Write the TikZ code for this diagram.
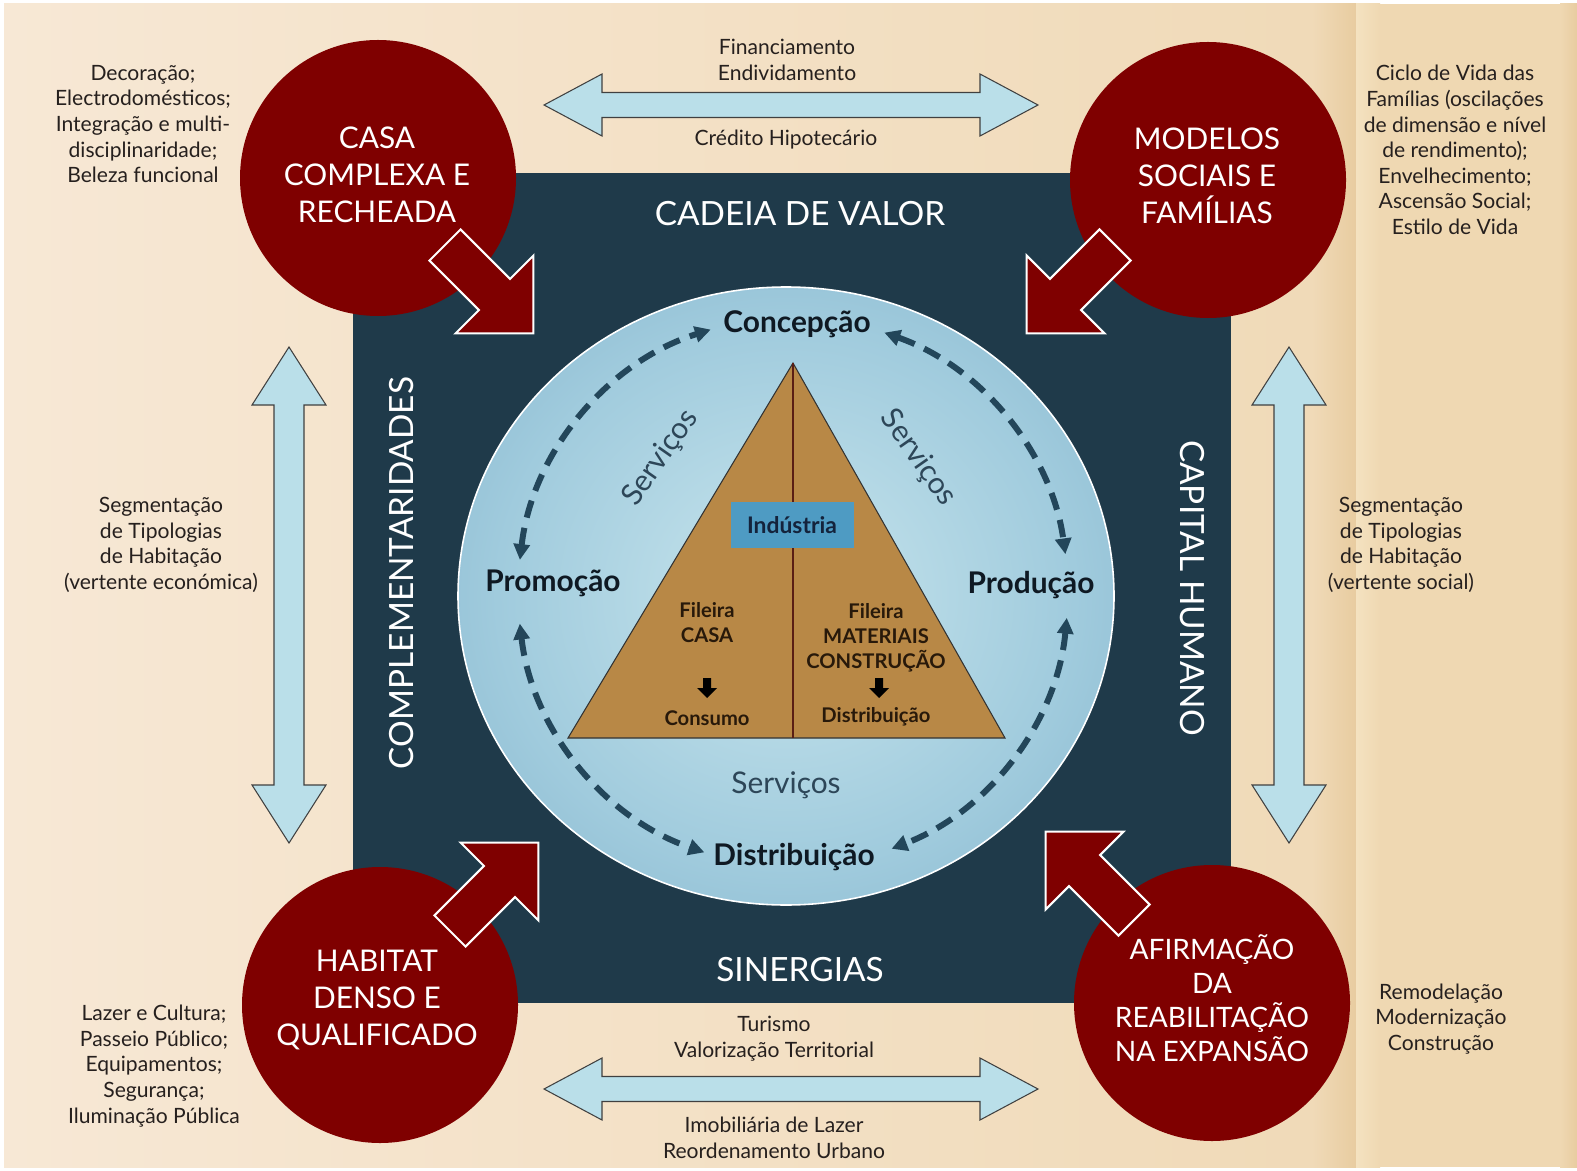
\documentclass[tikz,border=0pt]{standalone}
\usepackage{fontspec}
\setmainfont{Lato}
\usetikzlibrary{arrows.meta,calc}

\definecolor{paperL}{RGB}{247,232,213}
\definecolor{paperR}{RGB}{240,218,184}
\definecolor{panelmid}{RGB}{236,211,170}
\definecolor{paneltan}{RGB}{239,216,178}
\definecolor{paneldark}{RGB}{232,204,160}
\definecolor{panellight}{RGB}{244,226,192}
\definecolor{slate}{RGB}{31,58,74}
\definecolor{wine}{RGB}{127,0,0}
\definecolor{ice}{RGB}{186,223,233}
\definecolor{discin}{RGB}{200,229,237}
\definecolor{discmid}{RGB}{160,203,221}
\definecolor{discout}{RGB}{106,158,188}
\definecolor{ochre}{RGB}{184,136,70}
\definecolor{steelblue}{RGB}{78,155,195}
\definecolor{dashcol}{RGB}{35,70,90}
\definecolor{inktext}{RGB}{38,32,30}
\definecolor{servcol}{RGB}{45,70,88}
\definecolor{labelink}{RGB}{15,25,35}
\definecolor{tribrown}{RGB}{40,25,10}
\definecolor{splitline}{RGB}{90,30,20}
\definecolor{boxink}{RGB}{20,35,60}

\pgfdeclareradialshading{discshade}{\pgfpoint{0bp}{0bp}}{color(0bp)=(discin); color(22bp)=(discmid); color(50bp)=(discout)}

\begin{document}
\begin{tikzpicture}[x=0.2mm,y=-0.2mm,
  sidetext/.style={font=\fontsize{12}{14.6}\selectfont, text=inktext, align=center, inner sep=0pt},
  bigword/.style={font=\fontsize{19}{22}\selectfont, text=white, inner sep=0pt},
  redball/.style={circle, fill=wine, minimum size=55.2mm, inner sep=0pt},
  balltext/.style={font=\fontsize{17}{21}\selectfont, text=white, align=center, inner sep=0pt},
  stagelabel/.style={font=\bfseries\fontsize{17}{20}\selectfont, text=labelink, inner sep=0pt},
  servlabel/.style={font=\fontsize{17}{20}\selectfont, text=servcol, inner sep=0pt},
  tritext/.style={font=\bfseries\fontsize{11.5}{14.2}\selectfont, text=tribrown, align=center, inner sep=0pt},
  dasharc/.style={draw=dashcol, line width=3.4pt, dash pattern=on 10pt off 6pt,
    arrows={Triangle[length=9pt,width=9pt]-Triangle[length=9pt,width=9pt]}},
  redarrow/.pic={\draw[white, line width=1.2pt, fill=wine]
     (0,-22) -- (70,-22) -- (70,-55) -- (125,0) -- (70,55) -- (70,22) -- (0,22) -- cycle;},
  hdbl/.pic={\draw[draw=black!75, line width=0.6pt, fill=ice]
     (-247,0) -- (-189,-31) -- (-189,-12.5) -- (189,-12.5) -- (189,-31) -- (247,0)
     -- (189,31) -- (189,12.5) -- (-189,12.5) -- (-189,31) -- cycle;},
  vdbl/.pic={\draw[draw=black!75, line width=0.6pt, fill=ice]
     (-248,0) -- (-190,-37) -- (-190,-15) -- (190,-15) -- (190,-37) -- (248,0)
     -- (190,37) -- (190,15) -- (-190,15) -- (-190,37) -- cycle;},
  minidown/.pic={\fill[black] (-4,-10) -- (4,-10) -- (4,0) -- (10,0) -- (0,10) -- (-10,0) -- (-4,0) -- cycle;}
]
\useasboundingbox (0,0) rectangle (1577,1171);

% paper background and right-hand panel bands
\fill[white] (0,0) rectangle (1577,1171);
\shade[left color=paperL, right color=paperR] (4,4) rectangle (1312,1167);
\shade[left color=paperR, right color=paneldark] (1312,4) rectangle (1356,1167);
\shade[left color=panellight, right color=paneltan] (1356,4) rectangle (1380,1167);
\fill[paneltan] (1380,4) rectangle (1560,1167);
\shade[left color=paneltan, right color=paneldark] (1560,4) rectangle (1577,1167);

% value-chain square
\fill[slate] (353,173) rectangle (1231,1003);

% central disc
\coordinate (disc) at (786,596);
\shade[shading=discshade] (disc) ellipse[x radius=328, y radius=309];
\draw[white, line width=0.9pt] (disc) ellipse[x radius=328, y radius=309];

% dashed cycle around the pyramid
\coordinate (cyc) at (793,592);
\draw[dasharc] ($(cyc)+(-173.3:275)$) arc[start angle=-173.3, end angle=-107.4, radius=275];
\draw[dasharc] ($(cyc)+(-70.6:275)$) arc[start angle=-70.6, end angle=-7.9, radius=275];
\draw[dasharc] ($(cyc)+(-186.6:275)$) arc[start angle=-186.6, end angle=-251.2, radius=275];
\draw[dasharc] ($(cyc)+(5.4:275)$) arc[start angle=5.4, end angle=69, radius=275];

% pyramid
\coordinate (apex) at (793,363);
\coordinate (baseL) at (568,738);
\coordinate (baseR) at (1005,738);
\coordinate (baseM) at (793,738);
\draw[fill=ochre, draw=black!80, line width=0.6pt] (apex) -- (baseL) -- (baseR) -- cycle;
\draw[splitline, line width=0.9pt] (apex) -- (baseM);
\node[fill=steelblue, minimum width=24.6mm, minimum height=9.2mm, inner sep=0pt,
      font=\bfseries\fontsize{13}{15}\selectfont, text=boxink] (ind) at (792,525) {Indústria};

\node[tritext] (fcasa) at (707,623) {Fileira\\CASA};
\pic (downL) at (707,688) {minidown};
\node[tritext] (cons) at (707,718) {Consumo};
\node[tritext] (fmat) at (876,638) {Fileira\\MATERIAIS\\CONSTRUÇÃO};
\pic (downR) at (879,688) {minidown};
\node[tritext] (distr) at (876,717) {Distribuição};

% stage labels
\node[stagelabel] (conc) at (797,324) {Concepção};
\node[stagelabel] (prom) at (553,583) {Promoção};
\node[stagelabel] (prod) at (1031,585) {Produção};
\node[stagelabel] (dist) at (794,857) {Distribuição};
\node[servlabel, rotate=55] (servL) at (661,458) {Serviços};
\node[servlabel, rotate=-55] (servR) at (918,458) {Serviços};
\node[servlabel] (servB) at (786,785) {Serviços};

% words on the square
\node[bigword] (cadeia) at (800,214) {CADEIA DE VALOR};
\node[bigword] (sinerg) at (800,970) {SINERGIAS};
\node[bigword, rotate=90] (compl) at (402,573) {COMPLEMENTARIDADES};
\node[bigword, rotate=-90] (capital) at (1192,588) {CAPITAL HUMANO};

% corner themes
\node[redball] (casa) at (378,178) {};
\node[redball] (modelos) at (1208,180) {};
\node[redball] (habitat) at (380,1005) {};
\node[redball] (afirm) at (1212,1003) {};
\node[balltext] (casat) at (377,175) {CASA\\COMPLEXA E\\RECHEADA};
\node[balltext] (modelost) at (1207,176) {MODELOS\\SOCIAIS E\\FAMÍLIAS};
\node[balltext] (habitatt) at (377,1000) {HABITAT\\DENSO E\\QUALIFICADO};
\node[balltext, font=\fontsize{16}{19.4}\selectfont] (afirmt) at (1212,998) {AFIRMAÇÃO\\DA\\REABILITAÇÃO\\NA EXPANSÃO};

% thrust arrows into the square
\pic[rotate=-45] (arrCasa) at (445,245) {redarrow};
\pic[rotate=-135] (arrMod) at (1115,245) {redarrow};
\pic[rotate=45] (arrHab) at (450,931) {redarrow};
\pic[rotate=135] (arrAfi) at (1134,920) {redarrow};

% two-way links
\pic (linkTop) at (791,105) {hdbl};
\pic (linkBot) at (791,1089) {hdbl};
\pic[rotate=90] (linkLeft) at (289,595) {vdbl};
\pic[rotate=90] (linkRight) at (1289,595) {vdbl};

% side notes
\node[sidetext] (noteTL) at (143,124) {Decoração;\\Electrodomésticos;\\Integração e multi-\\disciplinaridade;\\Beleza funcional};
\node[sidetext] (noteTR) at (1455,150) {Ciclo de Vida das\\Famílias (oscilações\\de dimensão e nível\\de rendimento);\\Envelhecimento;\\Ascensão Social;\\Estilo de Vida};
\node[sidetext] (noteML) at (161,545) {Segmentação\\de Tipologias\\de Habitação\\(vertente económica)};
\node[sidetext] (noteMR) at (1401,545) {Segmentação\\de Tipologias\\de Habitação\\(vertente social)};
\node[sidetext] (noteBL) at (154,1066) {Lazer e Cultura;\\Passeio Público;\\Equipamentos;\\Segurança;\\Iluminação Pública};
\node[sidetext] (noteBR) at (1441,1019) {Remodelação\\Modernização\\Construção};
\node[sidetext] (noteFin) at (787,60) {Financiamento\\Endividamento};
\node[sidetext] (noteCred) at (786,140) {Crédito Hipotecário};
\node[sidetext] (noteTur) at (774,1039) {Turismo\\Valorização Territorial};
\node[sidetext] (noteImob) at (774,1138) {Imobiliária de Lazer\\Reordenamento Urbano};
\end{tikzpicture}
\end{document}
